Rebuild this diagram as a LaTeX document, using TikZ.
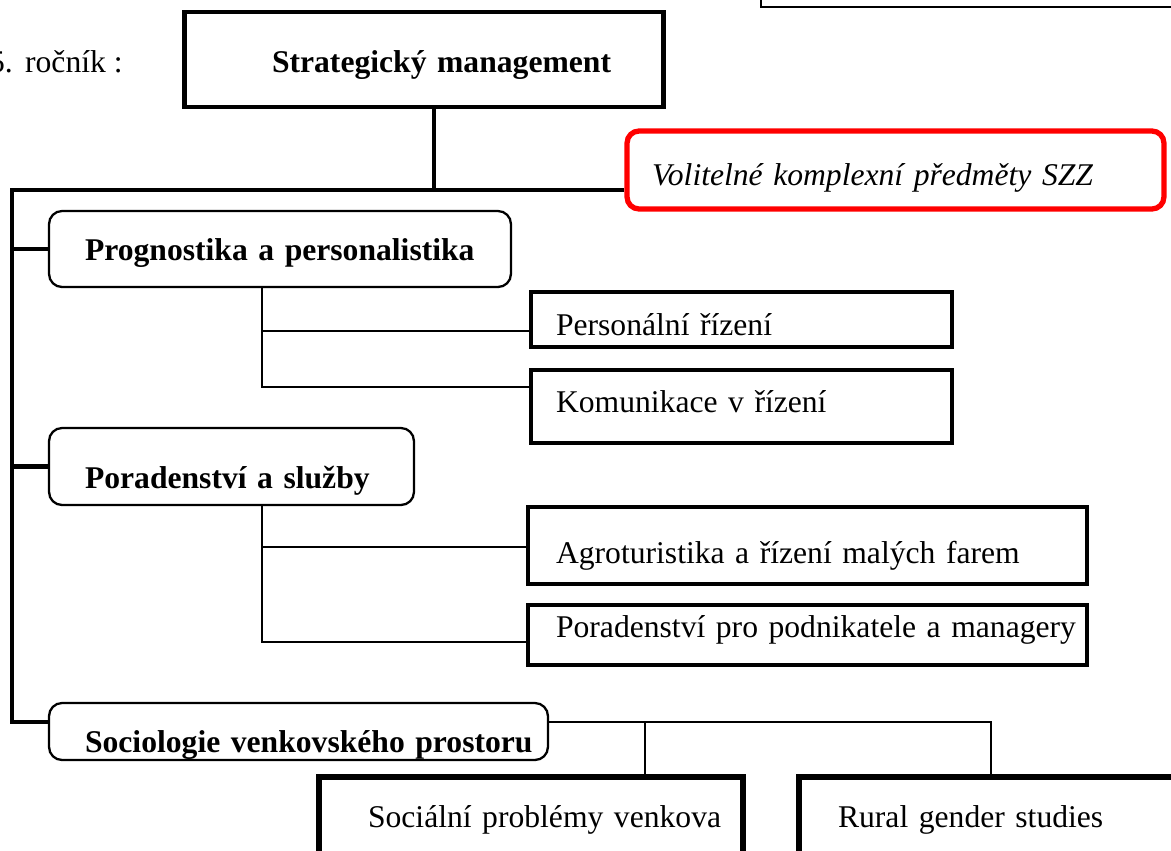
\documentclass[tikz,border=0pt]{standalone}
\usepackage{fontspec}
\setmainfont{Liberation Serif}
\begin{document}
\begin{tikzpicture}[x=0.02cm, y=-0.02cm,
	box/.style={rectangle, align=left, inner ysep=0pt, text depth=0pt, font=\fontsize{18}{21}\selectfont},
	subjbox/.style={box, draw, line width=2.7pt},
	course/.style={box, draw, line width=1.3pt, rounded corners=0.26cm, font=\fontsize{18}{21}\selectfont\bfseries},
	choice/.style={box, draw=red, line width=3pt, rounded corners=0.24cm, font=\fontsize{18}{21}\selectfont\itshape},
	trunk/.style={line width=2.8pt},
	twig/.style={line width=1.3pt}]
	\useasboundingbox (0,0) rectangle (1171,850);

	\node[draw, line width=1.5pt, minimum width=13.56cm, minimum height=1.48cm] (prev) at (1100,-30) {};
	\node[anchor=base east, inner sep=0pt, font=\fontsize{18}{21}\selectfont] (year) at (123,72) {5.\kern0.39em ročník :};

	\node[subjbox, line width=2.8pt, font=\fontsize{18}{21}\selectfont\bfseries, text width=6.08cm, inner xsep=1.76cm, minimum height=1.9cm, text height=0.5cm] (strat) at (424,59.5) {\mbox{Strategický management}};
	\node[choice, text width=9.74cm, inner xsep=0.5cm, minimum height=1.56cm, text height=0.6cm] (pick) at (895.5,170) {Volitelné komplexní předměty SZZ};

	\node[course, text width=7.8cm, inner xsep=0.72cm, minimum height=1.52cm, text height=0.44cm] (prog) at (280,249) {\mbox{Prognostika a personalistika}};
	\node[subjbox, text width=7.42cm, inner xsep=0.5cm, minimum height=1.1cm, text height=0.62cm] (pers) at (741.5,319.5) {Personální řízení};
	\node[subjbox, text width=7.42cm, inner xsep=0.5cm, minimum height=1.46cm, text height=0.22cm] (komu) at (741.5,406.5) {Komunikace v řízení};

	\node[course, text width=5.86cm, inner xsep=0.72cm, minimum height=1.54cm, text height=0.86cm] (pora) at (231.5,466.5) {Poradenství a služby};
	\node[subjbox, text width=10.06cm, inner xsep=0.56cm, minimum height=1.54cm, text height=0.7cm] (agro) at (807.5,545.5) {Agroturistika a řízení malých farem};
	\node[subjbox, text width=10.06cm, inner xsep=0.56cm, minimum height=1.2cm, text height=0.08cm] (porpro) at (807.5,635) {\mbox{Poradenství pro podnikatele a managery}};

	\node[course, text width=8.54cm, inner xsep=0.72cm, minimum height=1.14cm, text height=0.82cm] (soc) at (298.5,731.5) {\mbox{Sociologie venkovského prostoru}};
	\node[subjbox, line width=3pt, text width=6.52cm, inner xsep=0.98cm, minimum height=2.46cm, text height=0pt, text depth=0.46cm] (socp) at (531,838.5) {\mbox{Sociální problémy venkova}};
	\node[subjbox, line width=3pt, text width=7.46cm, inner xsep=0.78cm, minimum height=2.46cm, text height=0pt, text depth=0.46cm] (rural) at (1024.5,838.5) {Rural gender studies};

	\coordinate (top) at (434,190);
	\coordinate (corner) at (12,190);
	\coordinate (foot) at (12,722);
	\draw[trunk] (top |- strat.south) -- (top);
	\draw[trunk] (corner -| pick.west) -- (corner) -- (foot) -- (foot -| soc.west);
	\draw[trunk] (corner |- prog.west) -- (prog.west);
	\draw[trunk] (corner |- pora.west) -- (pora.west);

	\coordinate (a1) at (262,331);
	\coordinate (a2) at (262,387);
	\draw[twig] (a1 |- prog.south) -- (a2) -- (a2 -| komu.west);
	\draw[twig] (a1) -- (a1 -| pers.west);

	\coordinate (b1) at (262,547);
	\coordinate (b2) at (262,642);
	\draw[twig] (b1 |- pora.south) -- (b2) -- (b2 -| porpro.west);
	\draw[twig] (b1) -- (b1 -| agro.west);

	\coordinate (c1) at (645,722);
	\coordinate (c2) at (991,722);
	\draw[twig] (soc.east |- c1) -- (c2) -- (c2 |- rural.north);
	\draw[twig] (c1) -- (c1 |- socp.north);
\end{tikzpicture}
\end{document}
